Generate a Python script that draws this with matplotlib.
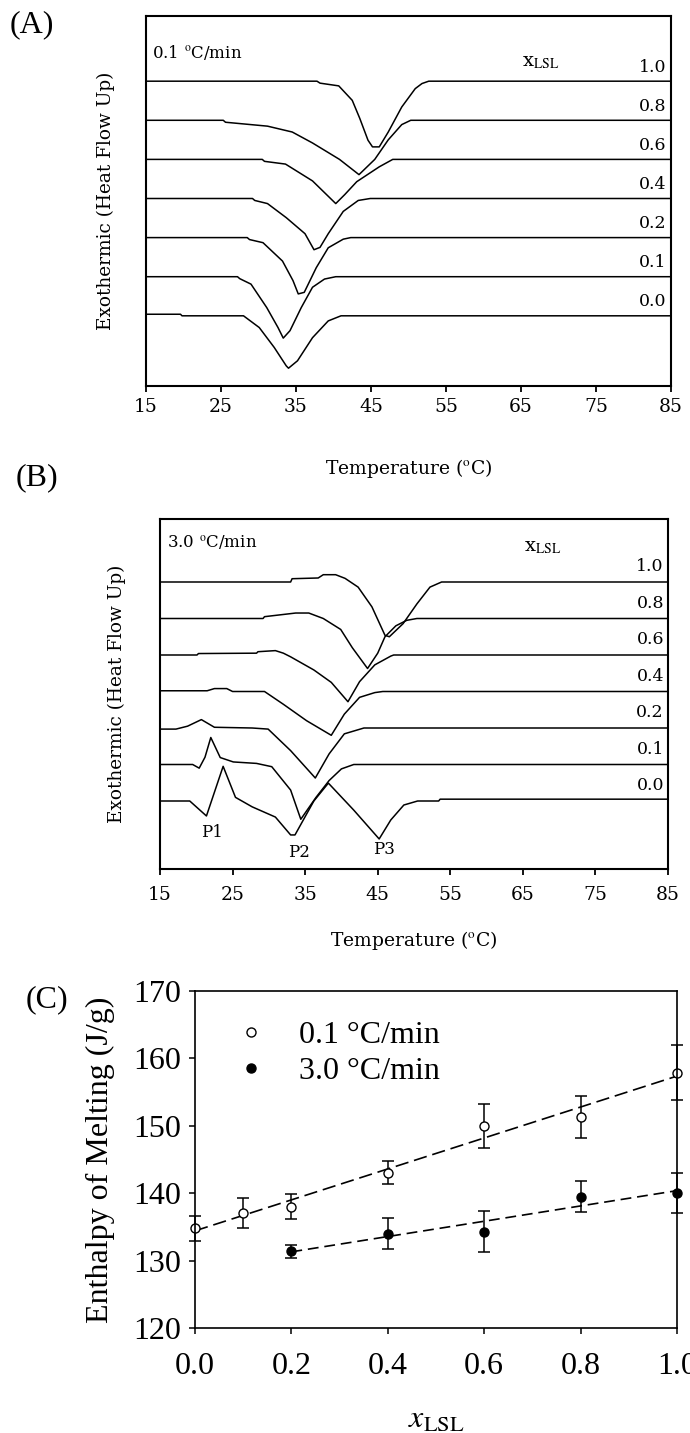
import numpy as np
import matplotlib
matplotlib.use('Agg')
import matplotlib.pyplot as plt

plt.rcParams['font.family'] = ['DejaVu Serif']
plt.rcParams['mathtext.fontset'] = 'stix'

# ---------------- data ----------------
x_lsl_labels = ['1.0', '0.8', '0.6', '0.4', '0.2', '0.1', '0.0']

# (A) 0.1 C/min : temperature (C) and heat flow (trace units, 0 = own baseline)
a_temp = [
    [15, 37.8, 38.2, 40.7, 42.5, 43.5, 44.6, 45.2, 46.1, 47.3, 49.1, 50.9, 51.8, 52.7, 85],
    [15, 25.3, 25.6, 31.2, 34.5, 37.2, 40.8, 43.4, 45.5, 47.3, 49.1, 50.3, 85],
    [15, 30.5, 30.8, 33.6, 37.2, 40.3, 41.5, 43.1, 46.1, 47.9, 85],
    [15, 29.2, 29.5, 31.2, 33.7, 36.2, 37.4, 38.2, 39.3, 41.3, 43.3, 44.9, 85],
    [15, 28.5, 28.8, 30.6, 33.2, 34.6, 35.3, 36.1, 37.7, 39.3, 41.3, 42.3, 85],
    [15, 27.2, 27.5, 29.0, 31.1, 32.6, 33.3, 34.2, 35.7, 37.2, 38.8, 40.3, 85],
    [15, 19.6, 19.8, 28.0, 30.1, 32.1, 33.7, 34.0, 35.2, 37.2, 39.3, 41.0, 85],
]
a_flow = [
    [0, 0, -0.05, -0.12, -0.49, -0.95, -1.51, -1.68, -1.68, -1.3, -0.66, -0.19, -0.06, 0, 0],
    [0, 0, -0.05, -0.15, -0.3, -0.58, -1.0, -1.39, -1.0, -0.5, -0.11, 0, 0],
    [0, 0, -0.05, -0.12, -0.55, -1.13, -0.9, -0.57, -0.19, 0, 0],
    [0, 0, -0.05, -0.13, -0.49, -0.9, -1.31, -1.25, -0.9, -0.33, -0.05, 0, 0],
    [0, 0, -0.05, -0.13, -0.6, -1.1, -1.44, -1.4, -0.77, -0.26, -0.04, 0, 0],
    [0, 0, -0.05, -0.19, -0.79, -1.3, -1.57, -1.38, -0.79, -0.27, -0.06, 0, 0],
    [0.04, 0.04, 0, 0, -0.3, -0.81, -1.28, -1.34, -1.15, -0.56, -0.13, 0, 0],
]

# (B) 3.0 C/min
b_temp = [
    [15, 33.0, 33.2, 36.8, 37.5, 39.2, 40.5, 42.3, 44.2, 46.0, 46.6, 48.5, 50.4, 52.2, 53.8, 85],
    [15, 29.2, 29.4, 33.7, 35.5, 37.5, 39.9, 41.5, 43.6, 45.0, 46.0, 47.5, 49.0, 50.4, 85],
    [15, 20.1, 20.3, 28.3, 28.5, 30.9, 32.0, 33.0, 36.2, 38.6, 40.9, 42.5, 44.6, 46.8, 47.2, 85],
    [15, 21.5, 22.5, 24.2, 25.0, 29.4, 32.0, 35.2, 38.6, 40.4, 42.5, 44.6, 45.7, 85],
    [15, 17.2, 18.8, 20.7, 22.5, 27.7, 29.9, 33.0, 36.4, 38.3, 40.4, 43.1, 85],
    [15, 19.5, 20.4, 21.2, 22.0, 23.3, 25.1, 28.3, 30.4, 33.0, 34.4, 36.5, 38.3, 40.0, 41.7, 85],
    [15, 19.1, 21.4, 23.7, 25.4, 27.7, 30.9, 33.0, 33.6, 36.2, 38.2, 41.7, 45.2, 46.8, 48.6, 50.5, 53.4, 53.6, 85],
]
b_flow = [
    [0, 0, 0.09, 0.11, 0.2, 0.2, 0.1, -0.14, -0.68, -1.46, -1.5, -1.14, -0.6, -0.14, 0, 0],
    [0, 0, 0.05, 0.15, 0.15, 0.0, -0.3, -0.8, -1.37, -0.95, -0.5, -0.2, -0.05, 0, 0],
    [0, 0, 0.04, 0.05, 0.09, 0.12, 0.05, -0.05, -0.41, -0.75, -1.28, -0.73, -0.27, -0.03, 0, 0],
    [0.02, 0.02, 0.08, 0.08, 0, 0, -0.35, -0.8, -1.2, -0.62, -0.16, -0.03, 0, 0],
    [-0.03, -0.03, 0.05, 0.23, 0.02, 0, -0.03, -0.62, -1.37, -0.71, -0.16, 0, 0],
    [0, 0, -0.1, 0.2, 0.74, 0.19, 0.07, 0.03, -0.06, -0.7, -1.5, -0.9, -0.44, -0.12, 0, 0],
    [0, 0, -0.41, 0.95, 0.1, -0.16, -0.44, -0.93, -0.93, 0, 0.49, -0.25, -1.04, -0.52, -0.11, 0, 0, 0.05, 0.05],
]
peak_names = ['P1', 'P2', 'P3']
peak_temp = [22.2, 34.1, 45.8]
peak_flow = [-0.85, -1.42, -1.34]

# (C) enthalpy of melting
x_slow = [0.0, 0.1, 0.2, 0.4, 0.6, 0.8, 1.0]
h_slow = [134.8, 137.1, 138.0, 143.05, 149.95, 151.3, 157.9]
e_slow = [1.85, 2.2, 1.85, 1.75, 3.25, 3.05, 4.1]
x_fast = [0.2, 0.4, 0.6, 0.8, 1.0]
h_fast = [131.4, 134.0, 134.3, 139.5, 140.0]
e_fast = [0.95, 2.3, 3.0, 2.35, 3.0]

W, H = 690, 1433
fig = plt.figure(figsize=(W / 100, H / 100), dpi=100)


def rect(l, r, t, b):
    return [l / W, 1 - b / H, (r - l) / W, (b - t) / H]


def dsc_panel(box, temps, flows, ylim, rate, rate_xy, xl_xy, lab_dy, tpad, xlab_y, ylab_x):
    ax = fig.add_axes(box)
    for i, (t, q) in enumerate(zip(temps, flows)):
        ax.plot(t, np.array(q) - i, color='black', lw=1.1)
        ax.text(0.992, -i + lab_dy, x_lsl_labels[i], transform=ax.get_yaxis_transform(),
                ha='right', va='center', fontsize=12.5)
    ax.set_xlim(15, 85)
    ax.set_ylim(*ylim)
    ax.set_xticks(range(15, 86, 10))
    ax.set_yticks([])
    ax.tick_params(axis='x', direction='out', length=4, width=1.3, pad=tpad, labelsize=13.5)
    for s in ax.spines.values():
        s.set_linewidth(1.5)
    ax.text(rate_xy[0], rate_xy[1], rate, transform=ax.transAxes, ha='left', va='center', fontsize=12)
    ax.text(xl_xy[0], xl_xy[1], r'x$_{\mathrm{LSL}}$', transform=ax.transAxes,
            ha='center', va='center', fontsize=14)
    ax.set_xlabel(r'Temperature ($^{\mathrm{o}}$C)', fontsize=13.5)
    ax.xaxis.set_label_coords(0.5, xlab_y)
    ax.xaxis.label.set_va('center')
    ax.set_ylabel('Exothermic (Heat Flow Up)', fontsize=13.3)
    ax.yaxis.set_label_coords(ylab_x, 0.5)
    ax.yaxis.label.set_va('center')
    return ax


ax_a = dsc_panel(rect(146, 671, 16, 386), a_temp, a_flow, (-7.795, 1.667),
                 r'0.1 $^{\mathrm{o}}$C/min', (0.012, 0.90), (0.752, 0.875), 0.36, 4.5, -0.222, -0.076)
ax_b = dsc_panel(rect(160, 668, 519, 869), b_temp, b_flow, (-7.863, 1.726),
                 r'3.0 $^{\mathrm{o}}$C/min', (0.014, 0.934), (0.754, 0.92), 0.42, 8, -0.203, -0.085)
for name, t, q in zip(peak_names, peak_temp, peak_flow):
    ax_b.text(t, q - 6, name, ha='center', va='center', fontsize=12)

# (C)
tnr = 'Liberation Serif'
ax_c = fig.add_axes(rect(195, 677, 991, 1328))
ax_c.errorbar(x_slow, h_slow, yerr=e_slow, fmt='none', ecolor='black', elinewidth=1.1,
              capsize=4, capthick=1.1, clip_on=False)
ax_c.errorbar(x_fast, h_fast, yerr=e_fast, fmt='none', ecolor='black', elinewidth=1.1,
              capsize=4, capthick=1.1, clip_on=False)
for xs, hs, dash in ((x_slow, h_slow, (8, 3.5)), (x_fast, h_fast, (6.5, 3.5))):
    k, c = np.polyfit(xs, hs, 1)
    xx = np.array([min(xs), max(xs)])
    ax_c.plot(xx, k * xx + c, color='black', lw=1.2, ls=(0, dash))
ax_c.plot(x_slow, h_slow, 'o', mfc='white', mec='black', mew=1.0, ms=6.5, clip_on=False,
          label='0.1 \u00b0C/min')
ax_c.plot(x_fast, h_fast, 'o', mfc='black', mec='black', ms=6.5, clip_on=False,
          label='3.0 \u00b0C/min')
ax_c.set_xlim(0, 1.0)
ax_c.set_ylim(120, 170)
ax_c.set_xticks([0, 0.2, 0.4, 0.6, 0.8, 1.0], ['0.0', '0.2', '0.4', '0.6', '0.8', '1.0'],
                fontfamily=tnr, fontsize=23)
ax_c.set_yticks(range(120, 171, 10), [str(v) for v in range(120, 171, 10)],
                fontfamily=tnr, fontsize=23)
ax_c.tick_params(axis='both', direction='out', length=4, width=1.1)
ax_c.tick_params(axis='x', pad=13)
ax_c.tick_params(axis='y', pad=6)
for s in ax_c.spines.values():
    s.set_linewidth(1.2)
ax_c.legend(loc='upper left', bbox_to_anchor=(0.056, 0.95), frameon=False,
            prop={'family': tnr, 'size': 23}, handlelength=1.0, handletextpad=1.0,
            labelspacing=0.2, borderaxespad=0, numpoints=1)
ax_c.set_xlabel(r'$x_{\mathrm{LSL}}$', fontsize=23)
ax_c.xaxis.set_label_coords(0.5, -0.27)
ax_c.xaxis.label.set_va('center')
ax_c.set_ylabel('Enthalpy of Melting (J/g)', fontfamily=tnr, fontsize=23)
ax_c.yaxis.set_label_coords(-0.197, 0.5)
ax_c.yaxis.label.set_va('center')

for lab, (px, py) in zip(['(A)', '(B)', '(C)'], [(32, 25), (37, 478), (47, 1000)]):
    fig.text(px / W, 1 - py / H, lab, fontfamily=tnr, fontsize=23, ha='center', va='center')

fig.savefig('out.png', dpi=100)
